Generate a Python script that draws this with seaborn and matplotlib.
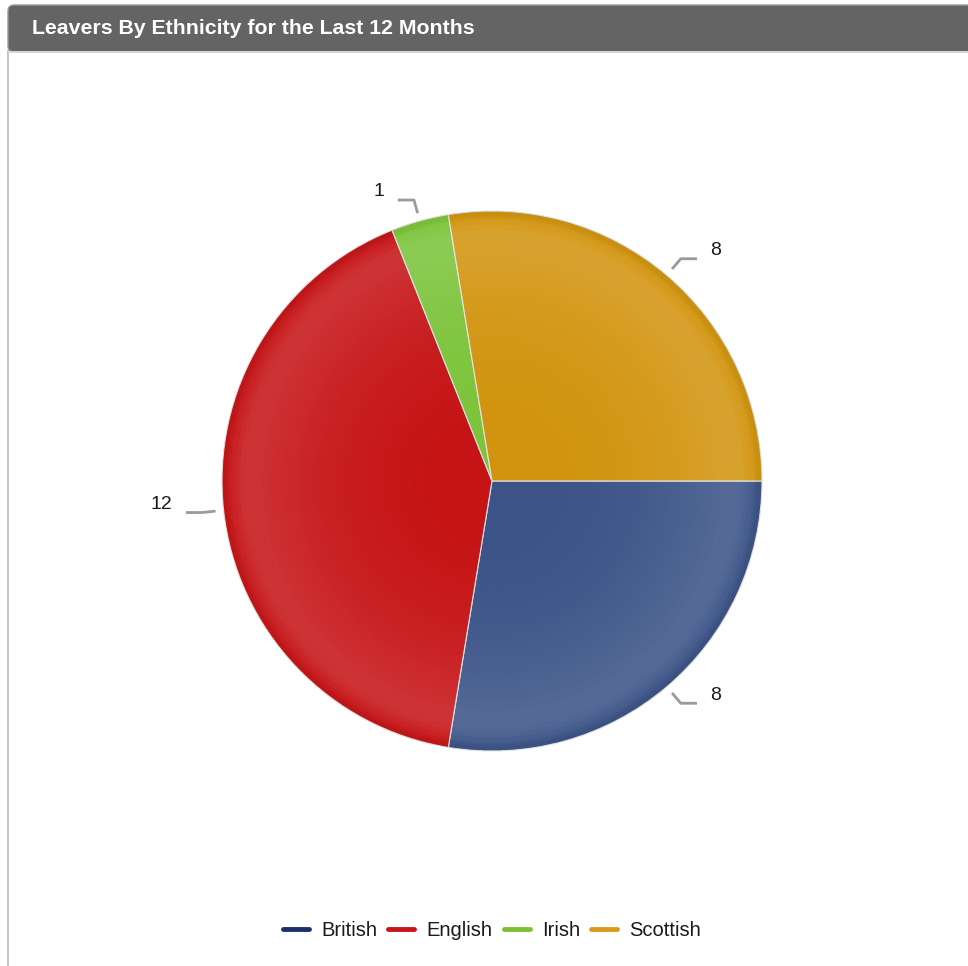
import numpy as np
import matplotlib
matplotlib.use("Agg")
import matplotlib.pyplot as plt
import seaborn as sns
from matplotlib.patches import Wedge, FancyBboxPatch, Rectangle
from matplotlib.lines import Line2D

sns.set_theme(style="white")
plt.rcParams["font.family"] = ["Liberation Sans", "DejaVu Sans"]

# Data
categories = ["British", "English", "Irish", "Scottish"]
counts = [8, 12, 1, 8]
slice_colors = ["#3b5387", "#c61416", "#7cc43a", "#d2940e"]
legend_colors = ["#1c2f6b", "#c8141c", "#7cc035", "#dc9a1c"]
title = "Leavers By Ethnicity for the Last 12 Months"

W, H = 968, 966
fig = plt.figure(figsize=(W / 100, H / 100), dpi=100)
fig.patch.set_facecolor("white")

# Panel frame drawn in pixel coordinates
bg = fig.add_axes([0, 0, 1, 1])
bg.set_xlim(0, W)
bg.set_ylim(H, 0)
bg.axis("off")
bg.add_patch(Rectangle((7, 50), 2, H - 50, color="#c4c4c4", lw=0))
bg.add_patch(FancyBboxPatch((8, 5), W + 20, 47,
                            boxstyle="round,pad=0,rounding_size=6",
                            fc="#646464", ec="#9a9a9a", lw=1))
bg.add_patch(Rectangle((8, 51), W, 2, color="#d6d6d6", lw=0))
bg.text(32, 29, title, color="white", fontsize=15.3, fontweight="bold",
        va="center", ha="left")

# Pie axes: radius 1 == 270 px, centre at (492, 481)
cx, cy, R = 492, 481, 270
ax = fig.add_axes([0, 0, 1, 1])
wedges, _ = ax.pie(counts, colors=slice_colors, startangle=0,
                   counterclock=False, radius=1.0,
                   wedgeprops=dict(edgecolor="#e4e4e4", linewidth=0.8))
ax.set_aspect("auto")
ax.set_xlim(-cx / R, (W - cx) / R)
ax.set_ylim(-(H - cy) / R, cy / R)
ax.axis("off")
ax.patch.set_alpha(0)

# Bevel-style shading: concentric translucent rings
N = 60
for i in range(N):
    r_out = (i + 1) / N
    r_mid = (i + 0.5) / N
    if r_mid < 0.86:
        a = 0.13 * (r_mid / 0.86) ** 2.5
    elif r_mid < 0.92:
        a = 0.13
    else:
        a = 0.13 * (1 - (r_mid - 0.92) / 0.08)
    if a > 0.002:
        ax.add_patch(Wedge((0, 0), r_out, 0, 360, width=1 / N,
                           fc="white", ec="none", alpha=a, zorder=3))
# slightly darker outer rim
ax.add_patch(Wedge((0, 0), 1.0, 0, 360, width=0.025, fc="black", ec="none",
                   alpha=0.04, zorder=3))

# Value labels with short leader lines
for w, v in zip(wedges, counts):
    th = np.deg2rad((w.theta1 + w.theta2) / 2)
    c, s = np.cos(th), np.sin(th)
    side = 1 if c >= 0 else -1
    p1 = (1.03 * c, 1.03 * s)
    p2 = (1.08 * c, 1.08 * s)
    p3 = (p2[0] + side * 0.06, p2[1])
    ax.plot([p1[0], p2[0], p3[0]], [p1[1], p2[1], p3[1]],
            color="#9a9a9a", lw=2, solid_capstyle="butt", zorder=4)
    ax.text(p3[0] + side * 0.05, p3[1] + 0.03, str(v), fontsize=14,
            color="#1a1a1a", ha="left" if side > 0 else "right",
            va="center", zorder=5)

handles = [Line2D([0], [0], color=col, lw=3.5) for col in legend_colors]
ax.legend(handles, categories, loc="center", bbox_to_anchor=(492 / W, 1 - 931 / H),
          bbox_transform=fig.transFigure, ncol=4, frameon=False,
          fontsize=14.5, handlelength=1.3, handletextpad=0.6,
          columnspacing=0.55, labelcolor="#1a1a1a")

fig.savefig("out.png", dpi=100, facecolor="white")
